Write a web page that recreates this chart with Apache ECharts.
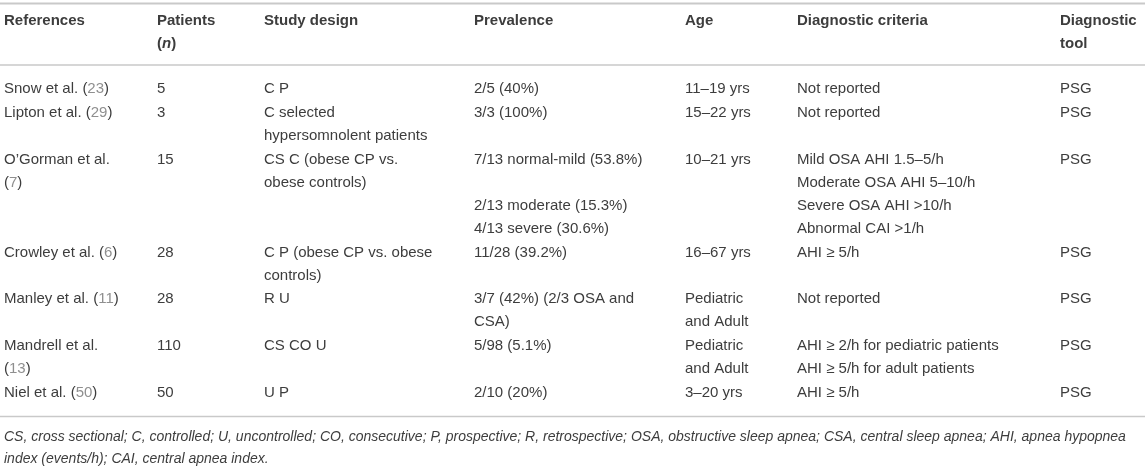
<!DOCTYPE html>
<html>
<head>
<meta charset="utf-8">
<script src="https://cdn.jsdelivr.net/npm/echarts@6/dist/echarts.min.js"></script>
<style>
html, body {margin: 0; padding: 0; background: #fff;}
#main {width: 1145px; height: 467px;}
</style>
</head>
<body>
<div id="main"></div>
<script>
// table content, one array per column; '\n' separates lines inside a cell
const header_labels = ['References', 'Patients\n({i|n})', 'Study design', 'Prevalence', 'Age', 'Diagnostic criteria', 'Diagnostic\ntool'];
const references = ['Snow et al. ({r|23})', 'Lipton et al. ({r|29})', 'O\u2019Gorman et al.\n({r|7})', 'Crowley et al. ({r|6})', 'Manley et al. ({r|11})', 'Mandrell et al.\n({r|13})', 'Niel et al. ({r|50})'];
const patients = ['5', '3', '15', '28', '28', '110', '50'];
const study_design = ['C P', 'C selected\nhypersomnolent patients', 'CS C (obese CP vs.\nobese controls)', 'C P (obese CP vs. obese\ncontrols)', 'R U', 'CS CO U', 'U P'];
const prevalence = ['2/5 (40%)', '3/3 (100%)', '7/13 normal-mild (53.8%)\n\n2/13 moderate (15.3%)\n4/13 severe (30.6%)', '11/28 (39.2%)', '3/7 (42%) (2/3 OSA and\nCSA)', '5/98 (5.1%)', '2/10 (20%)'];
const age = ['11\u201319 yrs', '15\u201322 yrs', '10\u201321 yrs', '16\u201367 yrs', 'Pediatric\nand Adult', 'Pediatric\nand Adult', '3\u201320 yrs'];
const criteria = ['Not reported', 'Not reported', 'Mild OSA AHI 1.5\u20135/h\nModerate OSA AHI 5\u201310/h\nSevere OSA AHI >10/h\nAbnormal CAI >1/h', 'AHI \u2265 5/h', 'Not reported', 'AHI \u2265 2/h for pediatric patients\nAHI \u2265 5/h for adult patients', 'AHI \u2265 5/h'];
const tool = ['PSG', 'PSG', 'PSG', 'PSG', 'PSG', 'PSG', 'PSG'];
const footnote = [
    'CS, cross sectional; C, controlled; U, uncontrolled; CO, consecutive; P, prospective; R, retrospective; OSA, obstructive sleep apnea; CSA, central sleep apnea; AHI, apnea hypopnea',
    'index (events/h); CAI, central apnea index.'
];

const columns = [references, patients, study_design, prevalence, age, criteria, tool];
const col_x = [4, 157, 264, 474, 685, 797, 1060];
const line_h = 23;
const row_pad = 0.8;
const font = 'Liberation Sans, Arial, sans-serif';
const text_color = '#3d3d3d';
const rule_color = '#c9c9c9';

function line_count(s) {
    return s.split('\n').length;
}

// text block whose first line is centred on y
function cell(x, y, s, bold) {
    return {
        type: 'text',
        x: x, y: y - line_h / 2,
        style: {
            text: s,
            fill: text_color,
            font: (bold ? 'bold ' : '') + '15px ' + font,
            lineHeight: line_h,
            verticalAlign: 'top',
            rich: {
                r: {fill: '#8f8f8f', font: '15px ' + font, lineHeight: line_h},
                i: {fill: text_color, font: 'italic bold 15px ' + font, lineHeight: line_h}
            }
        }
    };
}

function rule(y, w) {
    return {
        type: 'line',
        shape: {x1: 0, y1: y, x2: 1145, y2: y},
        style: {stroke: rule_color, lineWidth: w}
    };
}

let elements = [];
elements.push(rule(3.5, 2));

header_labels.forEach(function (h, c) {
    elements.push(cell(col_x[c], 21, h, true));
});
elements.push(rule(65, 1.5));

let y = 89;
references.forEach(function (r, i) {
    let n = 1;
    columns.forEach(function (col) {
        n = Math.max(n, line_count(col[i]));
    });
    columns.forEach(function (col, c) {
        elements.push(cell(col_x[c], y, col[i], false));
    });
    y += n * line_h + row_pad;
});
elements.push(rule(416.5, 1.5));

footnote.forEach(function (f, i) {
    elements.push({
        type: 'text',
        x: 4, y: 437 + i * 22,
        style: {
            text: f,
            fill: text_color,
            font: 'italic 14px ' + font,
            verticalAlign: 'middle'
        }
    });
});

let chart = echarts.init(document.getElementById('main'), null, {renderer: 'canvas'});
chart.setOption({
    animation: false,
    graphic: {elements: elements}
});
window.addEventListener('resize', function () {
    chart.resize();
});
</script>
</body>
</html>
